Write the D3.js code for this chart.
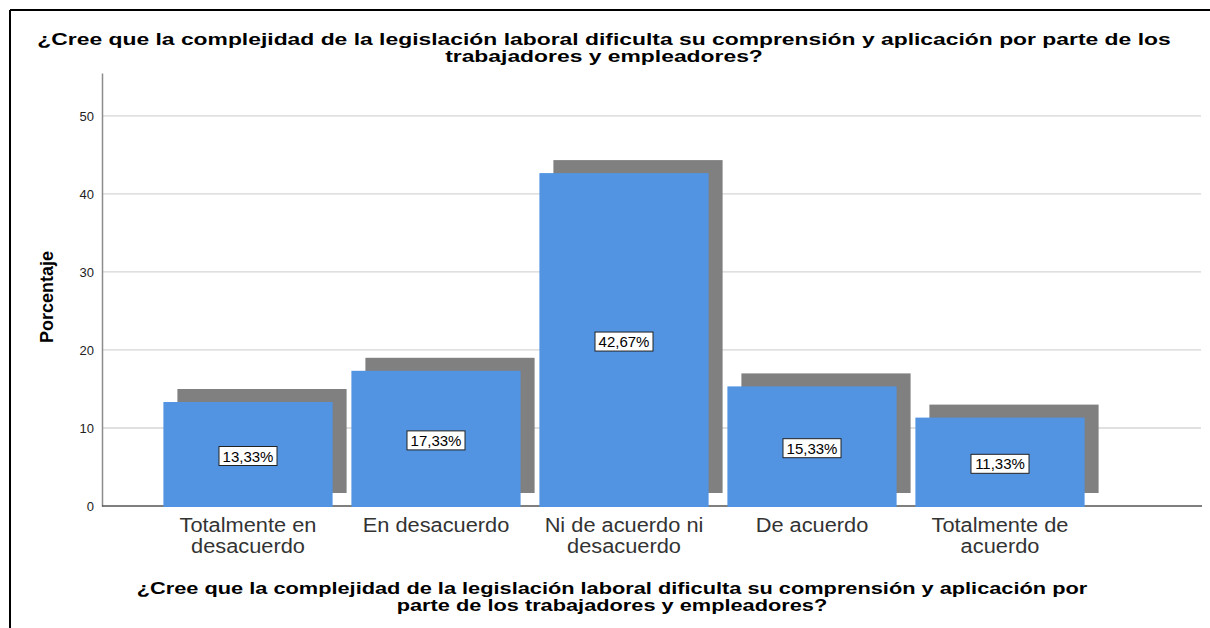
<!DOCTYPE html>
<html lang="es">
<head>
<meta charset="UTF-8">
<title>Complejidad de la legislación laboral</title>
<script src="https://d3js.org/d3.v7.min.js"></script>
<style>
  * { margin: 0; padding: 0; }
  body { background: #fff; }
  svg { display: block; font-family: "Liberation Sans", Arial, sans-serif; }
</style>
</head>
<body>
<script>
// data
var categories = ["Totalmente en desacuerdo", "En desacuerdo", "Ni de acuerdo ni desacuerdo", "De acuerdo", "Totalmente de acuerdo"];
var catLines = [["Totalmente en", "desacuerdo"], ["En desacuerdo"], ["Ni de acuerdo ni", "desacuerdo"], ["De acuerdo"], ["Totalmente de", "acuerdo"]];
var percents = [13.33, 17.33, 42.67, 15.33, 11.33];
var yTicks = [0, 10, 20, 30, 40, 50];
var titleLines = ["¿Cree que la complejidad de la legislación laboral dificulta su comprensión y aplicación por parte de los", "trabajadores y empleadores?"];
var xTitleLines = ["¿Cree que la complejidad de la legislación laboral dificulta su comprensión y aplicación por", "parte de los trabajadores y empleadores?"];

var W = 1210, H = 628;
var svg = d3.select("body").append("svg").attr("width", W).attr("height", H);

// the original picture is a bit wider than tall, so text is stretched sideways
function stretch(sel, f) {
  sel.each(function() {
    var len = this.getComputedTextLength();
    d3.select(this).attr("textLength", len * f).attr("lengthAdjust", "spacingAndGlyphs");
  });
}

// frame (only top and left visible)
svg.append("line").attr("x1", 10).attr("x2", W).attr("y1", 10).attr("y2", 10)
  .attr("stroke", "#000").attr("stroke-width", 2);
svg.append("line").attr("x1", 10).attr("x2", 10).attr("y1", 10).attr("y2", H)
  .attr("stroke", "#000").attr("stroke-width", 2);

var x = d3.scaleBand().domain(categories).range([154, 1094]).paddingInner(0.1).paddingOuter(0.05);
var y = d3.scaleLinear().domain([0, 55.5]).range([506, 73]);

// grid
svg.append("g").selectAll("line").data(yTicks.filter(function(d){ return d > 0; }))
  .join("line")
  .attr("x1", 102).attr("x2", 1201)
  .attr("y1", function(d){ return y(d); }).attr("y2", function(d){ return y(d); })
  .attr("stroke", "#d6d6d6").attr("stroke-width", 1.3);

// y axis
var yAxis = svg.append("g").attr("transform", "translate(102,0)")
  .call(d3.axisLeft(y).tickValues(yTicks).tickSize(0).tickPadding(8));
yAxis.select(".domain").attr("stroke", "#8c8c8c").attr("stroke-width", 1.5);
yAxis.selectAll("text").attr("font-size", 13).attr("fill", "#222")
  .attr("font-family", "Liberation Sans, Arial, sans-serif");

// shadow bars
var dx = 14, dy = 13;
svg.append("g").selectAll("rect").data(percents).join("rect")
  .attr("x", function(d, i){ return x(categories[i]) + dx; })
  .attr("y", function(d){ return y(d) - dy; })
  .attr("width", x.bandwidth())
  .attr("height", function(d){ return y(0) - y(d); })
  .attr("fill", "#808080");

// x axis line
svg.append("line").attr("x1", 102).attr("x2", 1202).attr("y1", y(0)).attr("y2", y(0))
  .attr("stroke", "#555").attr("stroke-width", 1.5);

// bars
svg.append("g").selectAll("rect").data(percents).join("rect")
  .attr("x", function(d, i){ return x(categories[i]); })
  .attr("y", function(d){ return y(d); })
  .attr("width", x.bandwidth())
  .attr("height", function(d){ return y(0) - y(d) + 1; })
  .attr("fill", "#5294e2");

// value labels
var lab = svg.append("g").selectAll("g").data(percents).join("g")
  .attr("transform", function(d, i){
    return "translate(" + (x(categories[i]) + x.bandwidth() / 2) + "," + ((y(d) + y(0)) / 2 + 2) + ")";
  });
lab.append("rect").attr("x", -29).attr("y", -9.5).attr("width", 58).attr("height", 19)
  .attr("fill", "#fff").attr("stroke", "#222").attr("stroke-width", 1);
lab.append("text").attr("text-anchor", "middle").attr("y", 5.5)
  .attr("font-size", 15).attr("fill", "#000")
  .text(function(d){ return d.toFixed(2).replace(".", ",") + "%"; });

// category labels
var cg = svg.append("g").selectAll("g").data(categories).join("g")
  .attr("transform", function(d){ return "translate(" + (x(d) + x.bandwidth() / 2) + ",532)"; });
var ct = cg.selectAll("text").data(function(d, i){ return catLines[i]; }).join("text")
  .attr("y", function(d, i){ return i * 21; })
  .attr("text-anchor", "middle").attr("font-size", 20).attr("fill", "#333")
  .text(function(d){ return d; });
stretch(ct, 1.09);

// titles
var t1 = svg.append("g").selectAll("text").data(titleLines).join("text")
  .attr("x", 604).attr("y", function(d, i){ return 45 + i * 17; })
  .attr("text-anchor", "middle").attr("font-size", 17).attr("font-weight", "bold").attr("fill", "#000")
  .text(function(d){ return d; });
stretch(t1, 1.345);

var t2 = svg.append("g").selectAll("text").data(xTitleLines).join("text")
  .attr("x", 612).attr("y", function(d, i){ return 594 + i * 17; })
  .attr("text-anchor", "middle").attr("font-size", 17).attr("font-weight", "bold").attr("fill", "#000")
  .text(function(d){ return d; });
stretch(t2, 1.28);

// y title
svg.append("text").attr("transform", "translate(53,297) rotate(-90)")
  .attr("text-anchor", "middle").attr("font-size", 18).attr("font-weight", "bold").attr("fill", "#000")
  .text("Porcentaje");
</script>
</body>
</html>
